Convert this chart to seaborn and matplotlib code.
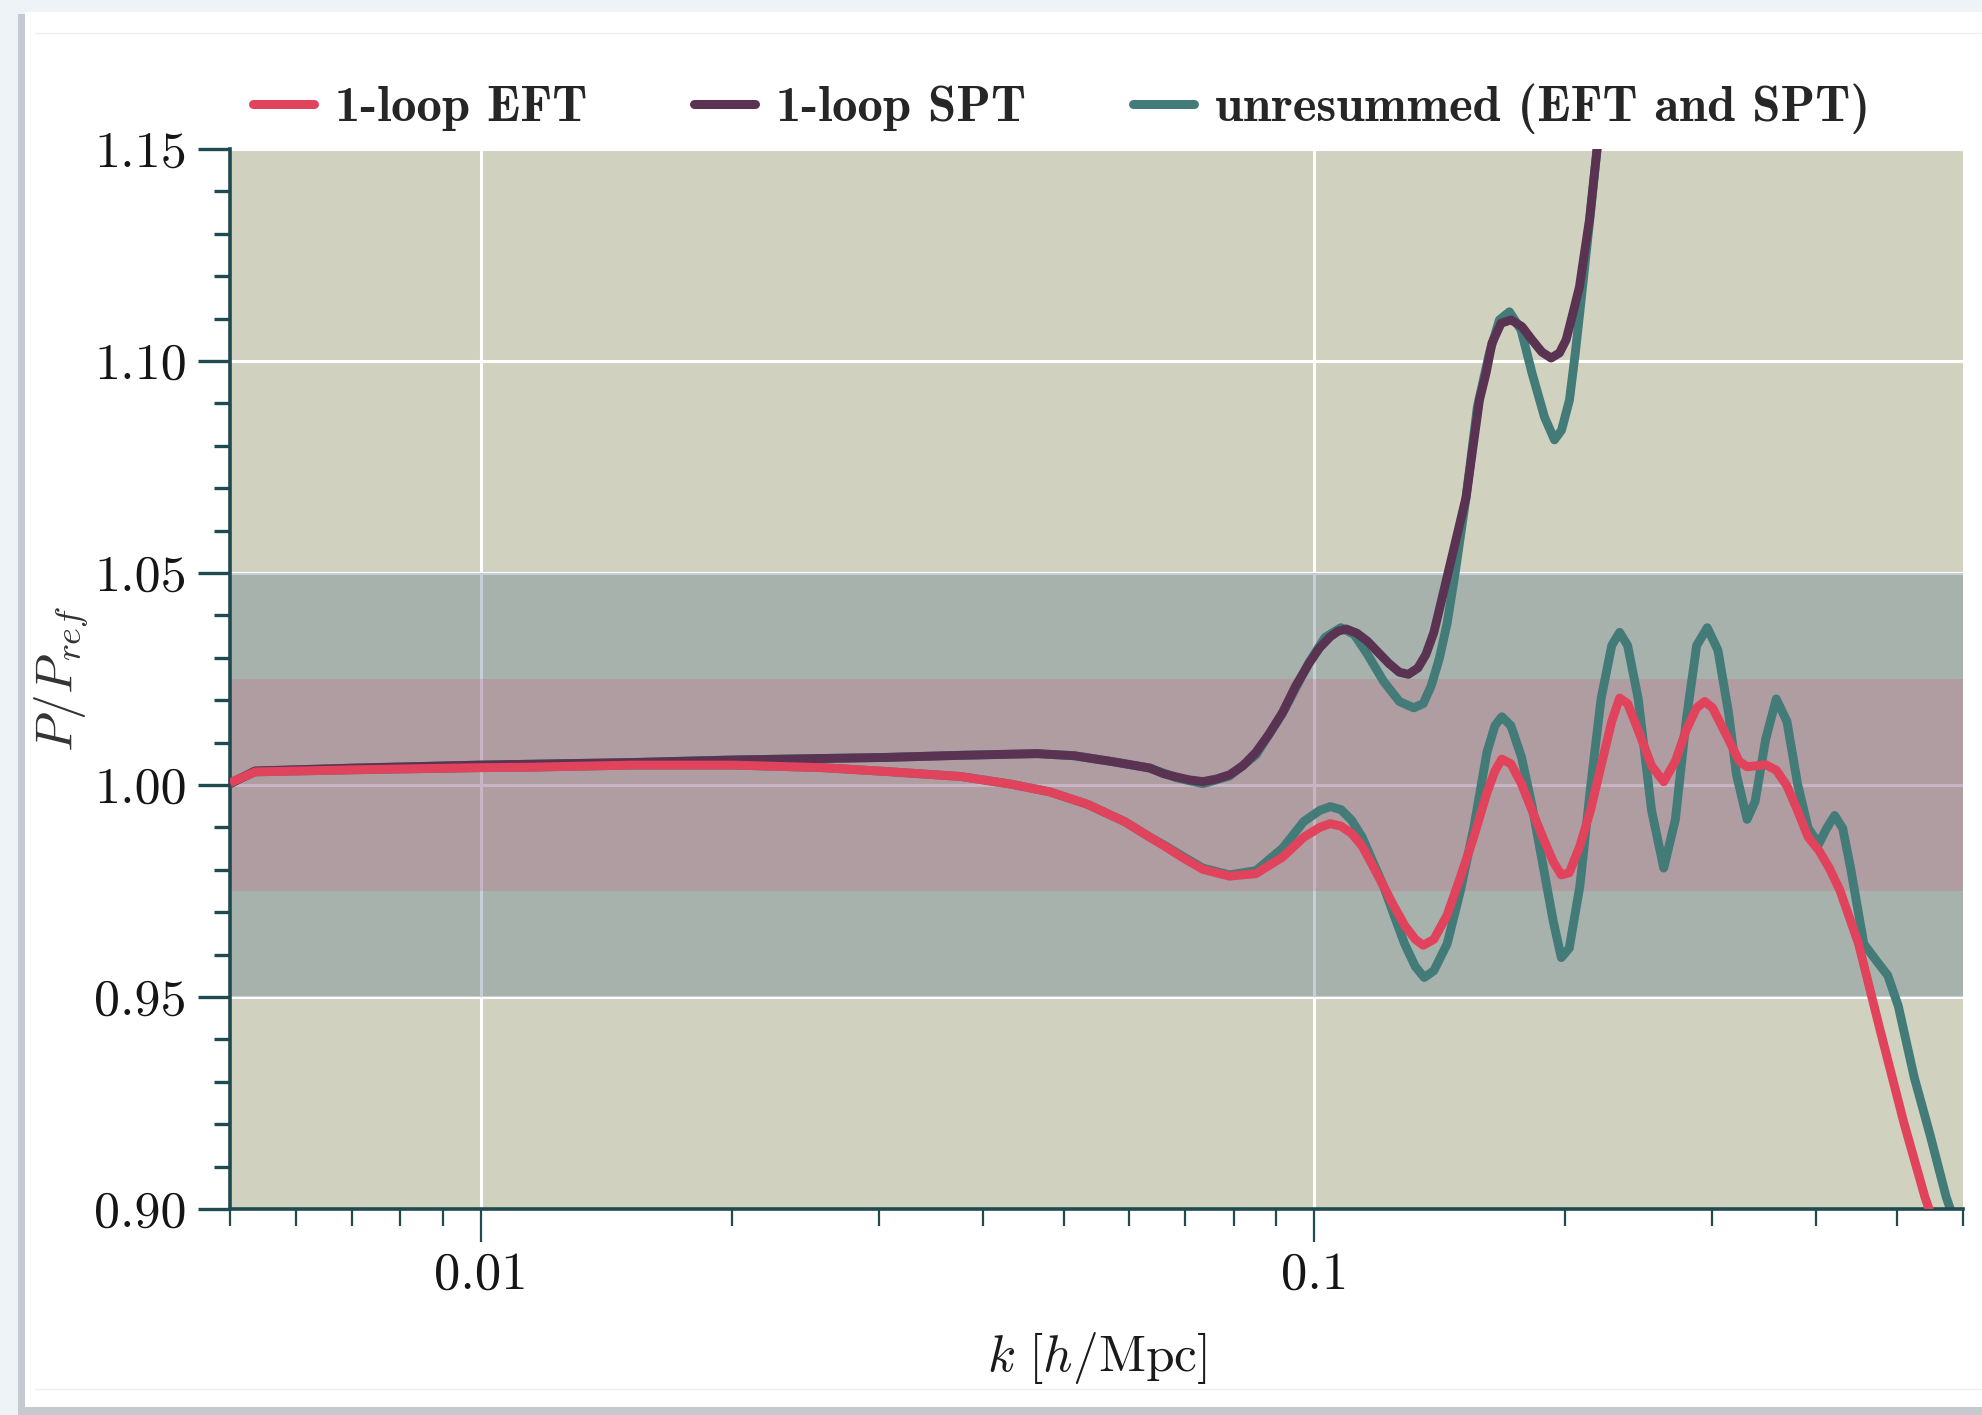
""" Ratio of resummed / unresummed 1-loop power spectra to the reference spectrum """

import matplotlib
matplotlib.use("Agg")
import matplotlib.pyplot as plt
import matplotlib.ticker as ticker
from matplotlib.patches import Rectangle
from matplotlib.lines import Line2D
import numpy as np
import seaborn as sns


# values; k is given as log10(k [h/Mpc])
logk_eft = [-2.301, -2.271, -2.150, -2.000, -1.941, -1.818, -1.697, -1.591, -1.515, -1.424,
            -1.364, -1.318, -1.273, -1.227, -1.1975, -1.1783, -1.1592, -1.1338, -1.1019, -1.0701,
            -1.0382, -1.0127, -0.9936, -0.9809, -0.9682, -0.9554, -0.9427, -0.9299, -0.9172, -0.9045,
            -0.8917, -0.8790, -0.8694, -0.8567, -0.8408, -0.8248, -0.8089, -0.7930, -0.7834, -0.7752,
            -0.7643, -0.7516, -0.7389, -0.7261, -0.7134, -0.7038, -0.6943, -0.6815, -0.6688, -0.6561,
            -0.6433, -0.6338, -0.6242, -0.6115, -0.5955, -0.5809, -0.5669, -0.5541, -0.5414, -0.5318,
            -0.5223, -0.5032, -0.4904, -0.4809, -0.4713, -0.4586, -0.4459, -0.4331, -0.4204, -0.4076,
            -0.3949, -0.3822, -0.3694, -0.3471, -0.3217, -0.2930, -0.2675, -0.2580]
ratio_eft = [1.0005, 1.0031, 1.0036, 1.0041, 1.0042, 1.0047, 1.0047, 1.0041, 1.0032, 1.0020,
             1.0002, 0.9984, 0.9955, 0.9913, 0.9877, 0.9854, 0.9830, 0.9801, 0.9785, 0.9791,
             0.9830, 0.9877, 0.9900, 0.9909, 0.9903, 0.9886, 0.9856, 0.9809, 0.9762, 0.9714,
             0.9669, 0.9636, 0.9622, 0.9636, 0.9693, 0.9783, 0.9877, 0.9982, 1.0033, 1.0061,
             1.0050, 1.0003, 0.9940, 0.9877, 0.9819, 0.9788, 0.9793, 0.9856, 0.9940, 1.0045,
             1.0150, 1.0205, 1.0192, 1.0129, 1.0045, 1.0008, 1.0056, 1.0129, 1.0182, 1.0197,
             1.0182, 1.0108, 1.0056, 1.0043, 1.0045, 1.0048, 1.0035, 0.9998, 0.9940, 0.9877,
             0.9846, 0.9804, 0.9751, 0.9625, 0.9425, 0.9205, 0.9028, 0.8974]

logk_eft_unres = [-2.301, -2.271, -2.150, -2.000, -1.941, -1.818, -1.697, -1.591, -1.515, -1.424,
                  -1.364, -1.318, -1.273, -1.227, -1.1975, -1.1783, -1.1592, -1.1338, -1.1019, -1.0701,
                  -1.0382, -1.0127, -0.9936, -0.9809, -0.9682, -0.9554, -0.9427, -0.9299, -0.9172, -0.9045,
                  -0.8917, -0.8790, -0.8682, -0.8567, -0.8408, -0.8248, -0.8089, -0.7930, -0.7834, -0.7752,
                  -0.7643, -0.7516, -0.7389, -0.7261, -0.7134, -0.7038, -0.6943, -0.6815, -0.6688, -0.6561,
                  -0.6433, -0.6338, -0.6242, -0.6115, -0.5955, -0.5809, -0.5669, -0.5541, -0.5414, -0.5287,
                  -0.5159, -0.5032, -0.4936, -0.4809, -0.4713, -0.4586, -0.4459, -0.4331, -0.4204, -0.4076,
                  -0.3949, -0.3854, -0.3758, -0.3662, -0.3567, -0.3408, -0.3248, -0.3121, -0.2994, -0.2803,
                  -0.2611, -0.2420, -0.2325]
ratio_eft_unres = [1.0005, 1.0031, 1.0036, 1.0041, 1.0042, 1.0047, 1.0047, 1.0041, 1.0032, 1.0020,
                   1.0002, 0.9984, 0.9955, 0.9913, 0.9877, 0.9856, 0.9833, 0.9804, 0.9788, 0.9798,
                   0.9851, 0.9914, 0.9940, 0.9949, 0.9942, 0.9917, 0.9877, 0.9819, 0.9762, 0.9693,
                   0.9625, 0.9572, 0.9546, 0.9562, 0.9625, 0.9751, 0.9898, 1.0077, 1.0140, 1.0161,
                   1.0140, 1.0066, 0.9951, 0.9814, 0.9678, 0.9593, 0.9615, 0.9762, 0.9993, 1.0203,
                   1.0329, 1.0360, 1.0329, 1.0203, 0.9940, 0.9804, 0.9919, 1.0150, 1.0329, 1.0371,
                   1.0318, 1.0171, 1.0024, 0.9919, 0.9961, 1.0108, 1.0203, 1.0150, 1.0003, 0.9898,
                   0.9861, 0.9898, 0.9928, 0.9898, 0.9804, 0.9625, 0.9583, 0.9551, 0.9478, 0.9310,
                   0.9173, 0.9028, 0.8974]

logk_spt = [-2.301, -2.271, -2.150, -2.000, -1.818, -1.697, -1.515, -1.424, -1.333, -1.288,
            -1.242, -1.1975, -1.1815, -1.1656, -1.1497, -1.1338, -1.1178, -1.1019, -1.0860, -1.0701,
            -1.0541, -1.0382, -1.0223, -1.0064, -0.9936, -0.9809, -0.9713, -0.9618, -0.9490, -0.9363,
            -0.9236, -0.9108, -0.8981, -0.8873, -0.8758, -0.8662, -0.8567, -0.8439, -0.8312, -0.818,
            -0.802, -0.794, -0.787, -0.776, -0.764, -0.751, -0.739, -0.727, -0.716, -0.706,
            -0.698, -0.691, -0.682, -0.676, -0.670, -0.661, -0.658]
ratio_spt = [1.0003, 1.0033, 1.0040, 1.0047, 1.0053, 1.0059, 1.0065, 1.0070, 1.0074, 1.0069,
             1.0055, 1.0040, 1.0027, 1.0019, 1.0012, 1.0008, 1.0014, 1.0024, 1.0045, 1.0077,
             1.0121, 1.0171, 1.0234, 1.0287, 1.0324, 1.0350, 1.0363, 1.0368, 1.0358, 1.0339,
             1.0313, 1.0287, 1.0266, 1.0261, 1.0276, 1.0308, 1.0360, 1.0465, 1.0570, 1.0679,
             1.0908, 1.0972, 1.1042, 1.1089, 1.1097, 1.1081, 1.1050, 1.1021, 1.1007, 1.1019,
             1.1050, 1.1104, 1.1175, 1.1255, 1.1333, 1.1498, 1.1560]

logk_spt_unres = [-2.301, -2.271, -2.150, -2.000, -1.818, -1.697, -1.515, -1.424, -1.333, -1.288,
                  -1.242, -1.1975, -1.1656, -1.1338, -1.1019, -1.0701, -1.0382, -1.0064, -0.9873, -0.9682,
                  -0.9522, -0.9363, -0.9172, -0.8981, -0.8809, -0.8694, -0.8599, -0.8503, -0.8408, -0.8312,
                  -0.818, -0.8045, -0.790, -0.778, -0.766, -0.752, -0.739, -0.724, -0.712, -0.7035,
                  -0.694, -0.687, -0.680, -0.668, -0.661, -0.658]
ratio_spt_unres = [1.0003, 1.0033, 1.0040, 1.0047, 1.0053, 1.0059, 1.0065, 1.0070, 1.0074, 1.0069,
                   1.0055, 1.0040, 1.0017, 1.0003, 1.0021, 1.0071, 1.0169, 1.0289, 1.0348, 1.0371,
                   1.0355, 1.0308, 1.0245, 1.0197, 1.0182, 1.0192, 1.0234, 1.0297, 1.0381, 1.0500,
                   1.0679, 1.0892, 1.1019, 1.1097, 1.1116, 1.1073, 1.0972, 1.0868, 1.0814, 1.0837,
                   1.0908, 1.1019, 1.1144, 1.1363, 1.1498, 1.1538]

labels = ['1-loop EFT', '1-loop SPT', 'unresummed (EFT and SPT)']
y_ticks = [0.90, 0.95, 1.00, 1.05, 1.10, 1.15]
x_ticks = [0.01, 0.1]

c_eft = '#e0435b'
c_spt = '#5a3353'
c_unres = '#437b78'

W, H = 1983, 1415

sns.set_theme(style="darkgrid", rc={'axes.facecolor': '#d0d1bf', 'grid.color': 'white'})
plt.rcParams['font.family'] = ['cmr10', 'DejaVu Serif']
plt.rcParams['mathtext.fontset'] = 'cm'
plt.rcParams['axes.formatter.use_mathtext'] = True
plt.rcParams['axes.unicode_minus'] = False

fig = plt.figure(figsize=(W / 100, H / 100), dpi=100, facecolor='#eef3f8')

# card + shadow behind the chart
fig.add_artist(Rectangle((18 / W, 0), 1, 1 - 14 / H, transform=fig.transFigure,
                         facecolor='#c6cad0', edgecolor='none', zorder=-3))
fig.add_artist(Rectangle((25 / W, 1 - 1407 / H), 1, (1407 - 12) / H, transform=fig.transFigure,
                         facecolor='white', edgecolor='none', zorder=-2))
fig.add_artist(Line2D([35 / W, 1], [1 - 33 / H, 1 - 33 / H], transform=fig.transFigure,
                      color='#eceef1', lw=1, zorder=-1))
fig.add_artist(Line2D([35 / W, 1], [1 - 1389 / H, 1 - 1389 / H], transform=fig.transFigure,
                      color='#eceef1', lw=1, zorder=-1))

ax = fig.add_axes([230 / W, 1 - 1209 / H, (1963 - 230) / W, (1209 - 149) / H])
ax.set_xscale('log')

# 5% and 2.5% bands
ax.axhspan(0.95, 1.05, color=(98 / 255, 126 / 255, 143 / 255), alpha=0.37, lw=0, zorder=1)
ax.axhspan(0.975, 1.025, color=(215 / 255, 55 / 255, 109 / 255), alpha=0.17, lw=0, zorder=1.1)

line_kw = dict(lw=6.4, estimator=None, solid_joinstyle='round', solid_capstyle='butt', ax=ax)
sns.lineplot(x=10 ** np.array(logk_eft_unres), y=ratio_eft_unres, color=c_unres, zorder=2, **line_kw)
sns.lineplot(x=10 ** np.array(logk_spt_unres), y=ratio_spt_unres, color=c_unres, zorder=2, **line_kw)
sns.lineplot(x=10 ** np.array(logk_spt), y=ratio_spt, color=c_spt, zorder=3, **line_kw)
sns.lineplot(x=10 ** np.array(logk_eft), y=ratio_eft, color=c_eft, zorder=4, **line_kw)

ax.set_xlim(0.005, 0.6)
ax.set_ylim(0.90, 1.15)

ax.set_yticks(y_ticks)
ax.yaxis.set_minor_locator(ticker.MultipleLocator(0.01))
ax.yaxis.set_major_formatter(ticker.FormatStrFormatter('%.2f'))
ax.xaxis.set_major_locator(ticker.FixedLocator(x_ticks))
ax.xaxis.set_minor_locator(ticker.LogLocator(base=10, subs=np.arange(2, 10)))
ax.xaxis.set_major_formatter(ticker.FuncFormatter(lambda v, p: f'{v:g}'))
ax.xaxis.set_minor_formatter(ticker.NullFormatter())

ax.grid(True, which='major', color='white', lw=2.2)
ax.grid(False, which='minor')
ax.set_axisbelow(True)

spine_c = '#1f4a50'
for s in ['top', 'right']:
    ax.spines[s].set_visible(False)
for s in ['left', 'bottom']:
    ax.spines[s].set_visible(True)
    ax.spines[s].set_color(spine_c)
    ax.spines[s].set_linewidth(2.6)

ax.tick_params(axis='y', which='major', direction='out', length=23, width=2.4, color=spine_c,
               labelsize=37.5, pad=8, labelcolor='#151515', left=True)
ax.tick_params(axis='y', which='minor', direction='out', length=11.5, width=2.4, color=spine_c, left=True)
ax.tick_params(axis='x', which='major', direction='out', length=24, width=1.6, color=spine_c,
               labelsize=38, pad=7, labelcolor='#151515', bottom=True)
ax.tick_params(axis='x', which='minor', direction='out', length=12, width=1.6, color=spine_c, bottom=True)

ax.set_xlabel(r'$k\ [h/\mathrm{Mpc}]$', fontsize=37, labelpad=22, color='#1a1a1a')
ax.set_ylabel(r'$P/P_{ref}$', fontsize=37, labelpad=2, color='#333333')

handles = [Line2D([], [], color=c, lw=6.5) for c in [c_eft, c_spt, c_unres]]
fig.legend(handles, labels, loc='center left', bbox_to_anchor=(253 / W, 1 - 109 / H),
           ncol=3, frameon=False, prop={'family': 'cmb10', 'size': 36.5},
           handlelength=1.2, handletextpad=0.42, columnspacing=2.1,
           borderaxespad=0, borderpad=0)

plt.savefig('out.png', dpi=100, facecolor=fig.get_facecolor())
plt.close(fig)
